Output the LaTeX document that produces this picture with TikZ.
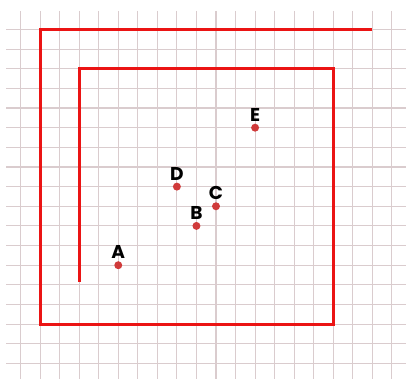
\documentclass[tikz,border=0pt]{standalone}
\usepackage{fontspec}
\setmainfont{Poppins}
\definecolor{gridpink}{RGB}{218,204,206}
\definecolor{spiralred}{RGB}{235,20,20}
\definecolor{dotred}{RGB}{208,58,58}
\tikzset{
  gridline/.style={gridpink, line width=0.8pt},
  spiral/.style={spiralred, line width=2.2pt},
  ptlabel/.style={above=4.5pt, inner sep=0pt, font=\fontsize{13.5}{13.5}\selectfont\bfseries}
}
\begin{document}
\begin{tikzpicture}[x=0.5cm, y=-0.5025cm]
            \useasboundingbox (-1.05,-1.5) rectangle (19.72,17.8);
            % squared paper
            \foreach \j in {0,...,17}
                \draw[gridline] (-0.74,\j) -- (19.72,\j);
            \foreach \i in {0,...,19}
                \draw[gridline] (\i,-0.94) -- (\i,17.8);
            % the spiral
            \draw[spiral] (18,0) -- (1,0) -- (1,15) -- (16,15) -- (16,2) -- (3,2) -- (3,12.87);
            % the points
            \foreach \n/\x/\y in {A/5/12, B/9/10, C/10/9, D/8/8, E/12/5} {
                \coordinate (\n) at (\x,\y);
                \fill[dotred] (\n) circle (2.9pt);
                \node[ptlabel] at (\n) {\n};
            }
        \end{tikzpicture}
\end{document}
